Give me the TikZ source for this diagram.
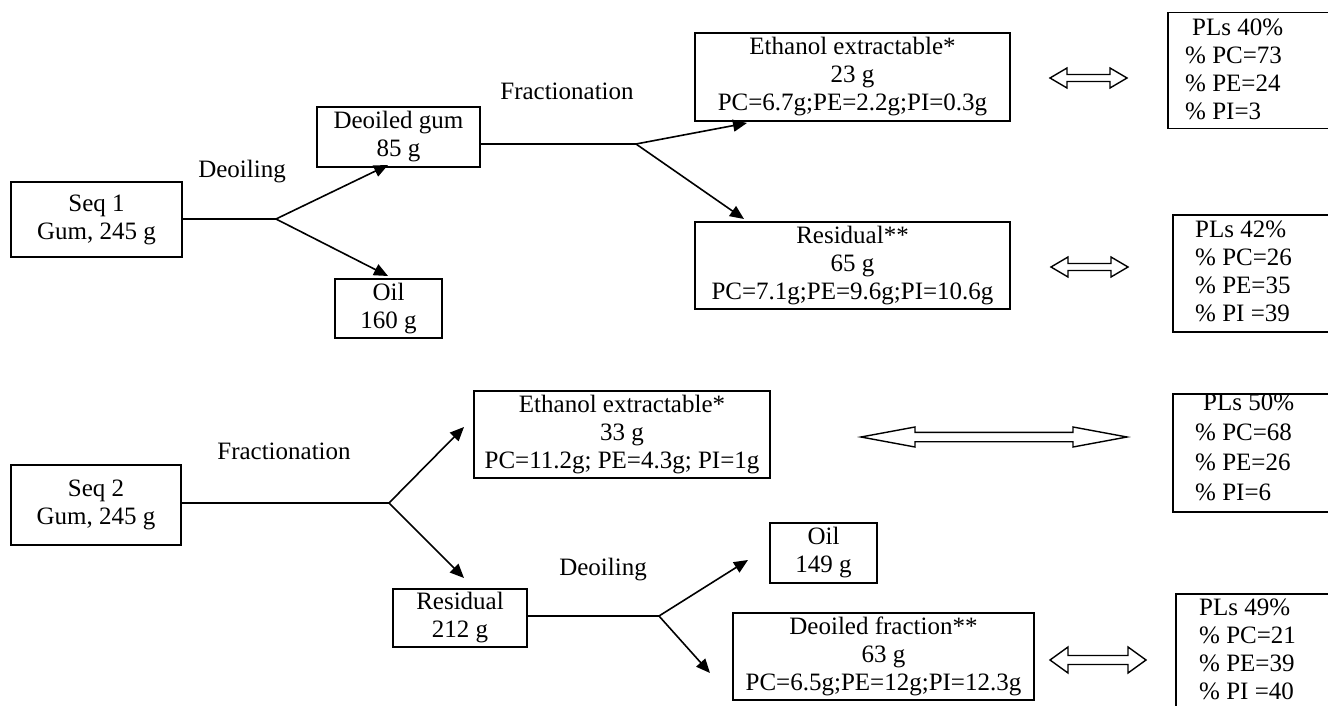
\documentclass[tikz,border=0pt]{standalone}
\usepackage{fontspec}
\setmainfont{Liberation Serif}
\usetikzlibrary{arrows.meta}
\tikzset{
  txt/.style={font=\fontsize{25}{28}\selectfont},
  box/.style={draw, line width=1.5pt, align=center, inner sep=0pt, txt,
    execute at begin node={\rule{0pt}{25pt}}},
  thickbox/.style={box, line width=2.3pt},
  plframe/.style={draw, line width=1.5pt, anchor=north west, inner sep=0pt, minimum width=300pt},
  pltext/.style={anchor=north west, align=left, inner sep=0pt, txt},
  lbl/.style={anchor=base, inner sep=0pt, txt},
  conn/.style={line width=1.6pt},
  arr/.style={line width=1.6pt, -{Triangle[length=14pt,width=12pt]}},
  dbl/.style={draw, line width=1.4pt, fill=white, line join=miter},
}
\newcommand{\DblArr}[6]{%
  \draw[dbl] (#1,#3) -- (#1+#4,#3-#5) -- (#1+#4,#3-#6) -- (#2-#4,#3-#6) -- (#2-#4,#3-#5) -- (#2,#3)
    -- (#2-#4,#3+#5) -- (#2-#4,#3+#6) -- (#1+#4,#3+#6) -- (#1+#4,#3+#5) -- cycle;}
\begin{document}
\begin{tikzpicture}[x=1pt, y=-1pt]
\useasboundingbox (0,0) rectangle (1328,706);

% ---------- Sequence 1 ----------
\node[box, minimum width=171pt, minimum height=75pt] (seq1) at (96.5,219.5) {Seq 1\\Gum, 245 g};
\node[thickbox, minimum width=163pt, minimum height=60pt] (dgum) at (398.5,137) {Deoiled gum\\85 g};
\node[box, minimum width=107pt, minimum height=59pt] (oil1) at (388.5,308.5) {Oil\\160 g};
\node[box, minimum width=315pt, minimum height=88pt] (eth1) at (852.5,77) {Ethanol extractable*\\23 g\\PC=6.7g;PE=2.2g;PI=0.3g};
\node[box, minimum width=315pt, minimum height=87pt] (res1) at (852.5,265.5) {Residual**\\65 g\\PC=7.1g;PE=9.6g;PI=10.6g};

\node[lbl] (lbdeo1) at (242,177) {Deoiling};
\node[lbl] (lbfr1) at (567,100) {Fractionation};

\coordinate (b1) at (276,219);
\coordinate (t1a) at (388,165);
\coordinate (t1b) at (388,276);
\draw[conn] (seq1.east |- b1) -- (b1);
\draw[arr] (b1) -- (t1a);
\draw[arr] (b1) -- (t1b);

\coordinate (b2) at (636,144);
\coordinate (t2a) at (747,123);
\coordinate (t2b) at (744,219);
\draw[conn] (dgum.east |- b2) -- (b2);
\draw[arr] (b2) -- (t2a);
\draw[arr] (b2) -- (t2b);

% PL boxes top
\node[plframe, minimum height=116pt] (pl1) at (1167,12) {};
\node[pltext] (pl1t) at (1185,19) {\hspace*{7pt}PLs 40\%\\\% PC=73\\\% PE=24\\\% PI=3};
\node[plframe, minimum height=117pt] (pl2) at (1172,214) {};
\node[pltext] (pl2t) at (1195,221) {PLs 42\%\\\% PC=26\\\% PE=35\\\% PI =39};

\DblArr{1050}{1127}{78}{17}{10}{3.5}
\DblArr{1051}{1128}{267}{17}{10}{3.5}

% ---------- Sequence 2 ----------
\node[box, minimum width=170pt, minimum height=80pt] (seq2) at (96,505) {Seq 2\\Gum, 245 g};
\node[box, minimum width=296pt, minimum height=87pt] (eth2) at (622,434.5) {Ethanol extractable*\\33 g\\PC=11.2g; PE=4.3g; PI=1g};
\node[box, minimum width=134pt, minimum height=58pt] (res2) at (460,618) {Residual\\212 g};
\node[thickbox, minimum width=107pt, minimum height=60pt] (oil2) at (823.5,553) {Oil\\149 g};
\node[box, minimum width=301pt, minimum height=87pt] (dfrac) at (883.5,656.5) {Deoiled fraction**\\63 g\\PC=6.5g;PE=12g;PI=12.3g};

\node[lbl] (lbfr2) at (284,459) {Fractionation};
\node[lbl] (lbdeo2) at (603,575) {Deoiling};

\coordinate (b3) at (389,503);
\coordinate (t3a) at (464,427);
\coordinate (t3b) at (464,578);
\draw[conn] (seq2.east |- b3) -- (b3);
\draw[arr] (b3) -- (t3a);
\draw[arr] (b3) -- (t3b);

\coordinate (b4) at (659,616);
\coordinate (t4a) at (748,560);
\coordinate (t4b) at (710,673);
\draw[conn] (res2.east |- b4) -- (b4);
\draw[arr] (b4) -- (t4a);
\draw[arr] (b4) -- (t4b);

% PL boxes bottom
\node[plframe, minimum height=118pt] (pl3) at (1172,393) {};
\node[pltext, font=\fontsize{25}{30}\selectfont] (pl3t) at (1195,393.5) {\hspace*{8pt}PLs 50\%\\\% PC=68\\\% PE=26\\\% PI=6};
\node[plframe, minimum height=150pt] (pl4) at (1175,593) {};
\node[pltext] (pl4t) at (1199,599) {PLs 49\%\\\% PC=21\\\% PE=39\\\% PI =40};

\DblArr{861}{1127}{437}{54}{10}{4.7}
\DblArr{1050}{1146}{660}{18}{13}{4.5}
\end{tikzpicture}
\end{document}
